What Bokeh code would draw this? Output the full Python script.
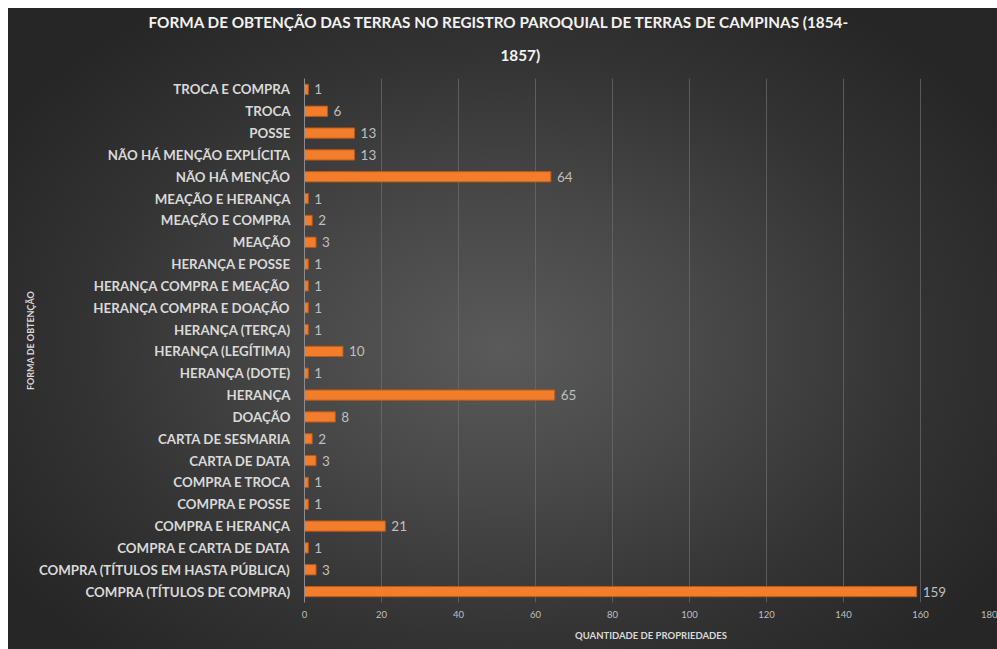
from bokeh.plotting import figure
from bokeh.models import ColumnDataSource, LabelSet, FixedTicker, Range1d, Title
from bokeh.core.properties import value
from bokeh.embed import file_html
from bokeh.resources import INLINE

# Data (top to bottom as in the reference)
categories_top_down = [
    "TROCA E COMPRA", "TROCA", "POSSE", "NÃO HÁ MENÇÃO EXPLÍCITA", "NÃO HÁ MENÇÃO",
    "MEAÇÃO E HERANÇA", "MEAÇÃO E COMPRA", "MEAÇÃO", "HERANÇA E POSSE",
    "HERANÇA COMPRA E MEAÇÃO", "HERANÇA COMPRA E DOAÇÃO", "HERANÇA (TERÇA)",
    "HERANÇA (LEGÍTIMA)", "HERANÇA (DOTE)", "HERANÇA", "DOAÇÃO", "CARTA DE SESMARIA",
    "CARTA DE DATA", "COMPRA E TROCA", "COMPRA E POSSE", "COMPRA E HERANÇA",
    "COMPRA E CARTA DE DATA", "COMPRA (TÍTULOS EM HASTA PÚBLICA)", "COMPRA (TÍTULOS DE COMPRA)",
]
values_top_down = [1, 6, 13, 13, 64, 1, 2, 3, 1, 1, 1, 1, 10, 1, 65, 8, 2, 3, 1, 1, 21, 1, 3, 159]
x_ticks = [0, 20, 40, 60, 80, 100, 120, 140, 160, 180]

title_lines = ["FORMA DE OBTENÇÃO DAS TERRAS NO REGISTRO PAROQUIAL DE TERRAS DE CAMPINAS (1854-", "1857)"]
x_title = "QUANTIDADE DE PROPRIEDADES"
y_title = "FORMA DE OBTENÇÃO"

cats = list(reversed(categories_top_down))
vals = list(reversed(values_top_down))
src = ColumnDataSource(dict(cat=cats, val=vals, lbl=[str(v) for v in vals]))

W, H = 989, 641
BL, BT, BB = 296, 70, 47
p = figure(width=W, height=H, y_range=cats, x_range=Range1d(0, 180), title=None,
           output_backend="svg", toolbar_location=None,
           min_border_left=BL, min_border_right=0, min_border_top=BT, min_border_bottom=BB)

p.styles = {"margin-left": "8px", "margin-top": "8px",
            "background": "radial-gradient(ellipse 60% 65% at 50% 53%, #5a5a5a 0%, #484848 35%, #333333 70%, #262626 100%)"}
p.border_fill_alpha = 0
p.background_fill_alpha = 0
p.outline_line_color = None

p.hbar(y="cat", right="val", left=0, height=0.47, source=src,
       fill_color="#F27D2B", line_color="#B8581A", line_width=1)

labels = LabelSet(x="val", y="cat", text="lbl", source=src, x_offset=6,
                  text_baseline="middle", text_color="#BFBFBF", text_font_size="13.5px",
                  text_font=value("Lato"))
p.add_layout(labels)

# two-line title; left aligned with offsets so it sits centred over the whole chart
title_style = dict(align="left", text_font="Lato", text_font_size="15.3px",
                   text_font_style="bold", text_color="#F2F2F2")
p.add_layout(Title(text=title_lines[1], offset=196, standoff=29, **title_style), "above")
p.add_layout(Title(text=title_lines[0], offset=-156, standoff=-2, **title_style), "above")

p.xaxis.ticker = FixedTicker(ticks=x_ticks)
p.xaxis.axis_line_color = None
p.xaxis.major_tick_line_color = None
p.xaxis.minor_tick_line_color = None
p.xaxis.major_label_text_color = "#BFBFBF"
p.xaxis.major_label_text_font = "Lato"
p.xaxis.major_label_text_font_size = "9.5px"
p.xaxis.major_label_standoff = 2
p.xaxis.axis_label = x_title
p.xaxis.axis_label_text_font = "Lato"
p.xaxis.axis_label_text_font_size = "9.5px"
p.xaxis.axis_label_text_font_style = "bold"
p.xaxis.axis_label_text_color = "#D9D9D9"
p.xaxis.axis_label_standoff = 9

p.yaxis.axis_line_color = "#8C8C8C"
p.yaxis.major_tick_line_color = None
p.yaxis.minor_tick_line_color = None
p.yaxis.major_label_text_color = "#D9D9D9"
p.yaxis.major_label_text_font = "Lato"
p.yaxis.major_label_text_font_size = "13.3px"
p.yaxis.major_label_text_font_style = "bold"
p.yaxis.major_label_standoff = 8
p.yaxis.axis_label = y_title
p.yaxis.axis_label_text_font = "Lato"
p.yaxis.axis_label_text_font_size = "9px"
p.yaxis.axis_label_text_font_style = "bold"
p.yaxis.axis_label_text_color = "#D9D9D9"
p.yaxis.axis_label_standoff = 0

p.xgrid.grid_line_color = "#6E6E6E"
p.xgrid.grid_line_alpha = 0.7
p.ygrid.grid_line_color = None

open("out.html", "w").write(file_html(p, INLINE))
